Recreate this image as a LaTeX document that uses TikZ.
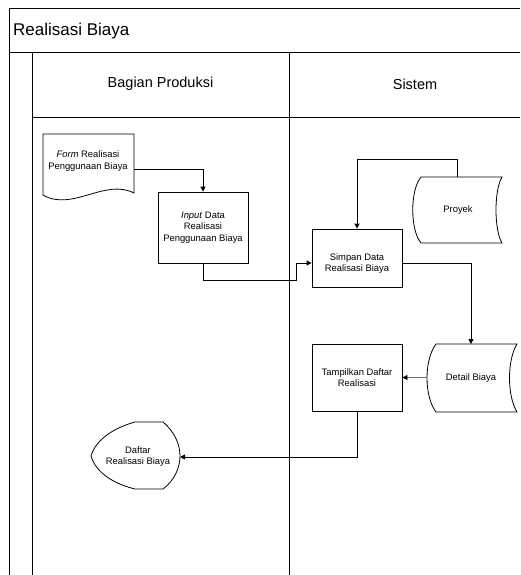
\documentclass[tikz,border=0pt]{standalone}
\usepackage{fontspec}
\setmainfont{Liberation Sans}
\usetikzlibrary{arrows.meta}
\begin{document}
\begin{tikzpicture}[x=1pt,y=-1pt,
  line/.style={draw=black,line width=0.8pt},
  flow/.style={line,-{Triangle[length=5pt,width=5pt]}},
  procbox/.style={draw,line width=0.8pt,minimum width=90pt,inner sep=0pt,align=center,font=\fontsize{9.4}{11.5}\selectfont},
  txt/.style={align=center,inner sep=0pt,font=\fontsize{9.4}{11.5}\selectfont}]
\useasboundingbox (0,0) rectangle (520,575);
% frame
\draw[line] (9,575) -- (9,8) -- (520,8);
\draw[line] (9,52) -- (520,52);
\draw[line] (32,52) -- (32,575);
\draw[line] (32,117) -- (520,117);
\draw[line] (289,52) -- (289,575);
\node[anchor=west,font=\fontsize{17}{20}\selectfont,inner sep=0pt] (title) at (13,31) {Realisasi Biaya};
\node[font=\fontsize{14.5}{17}\selectfont,inner sep=0pt] (lane1) at (160.5,84) {Bagian Produksi};
\node[font=\fontsize{14.5}{17}\selectfont,inner sep=0pt] (lane2) at (415,84) {Sistem};
% document
\draw[line] (43,134) -- (134,134) -- (134,193) .. controls (105,178) and (72,212) .. (43,195) -- cycle;
\node[txt] (form) at (88,161) {\textit{Form} Realisasi\\Penggunaan Biaya};
\coordinate (docR) at (134,169);
% input
\node[procbox,minimum height=71pt] (input) at (203,227.5) {\textit{Input} Data\\Realisasi\\Penggunaan Biaya};
\draw[flow] (docR) -| (input.north);
% simpan
\node[procbox,minimum height=58pt] (simpan) at (357,258) {};
\node[txt] (simpantxt) at (357,263.5) {Simpan Data\\Realisasi Biaya};
\coordinate (j0) at (203,280);
\coordinate (j1) at (296,263);
\draw[flow] (input.south) -- (j0) -| (j1) -- (simpan.west |- j1);
% proyek
\draw[line] (421,177) -- (502,177) .. controls (494,190) and (494,230) .. (502,243) -- (421,243) .. controls (410,230) and (410,190) .. (421,177) -- cycle;
\node[txt] (proyek) at (458,210) {Proyek};
\coordinate (ptop) at (457,177);
\coordinate (k) at (357,159);
\draw[flow] (ptop) |- (k) -- (simpan.north);
% detail
\draw[line] (436,344) -- (517,344) .. controls (507,360) and (507,396) .. (517,412) -- (436,412) .. controls (424,396) and (424,360) .. (436,344) -- cycle;
\node[txt] (detail) at (471,378) {Detail Biaya};
\coordinate (dtop) at (471,344);
\draw[flow] (simpan.east |- j1) -| (dtop);
% tampilkan
\node[procbox,minimum height=67pt] (tampil) at (357,377.5) {Tampilkan Daftar\\Realisasi};
\coordinate (dL) at (427,377.5);
\draw[line,draw=black!55,-{Triangle[length=5pt,width=5pt,color=black]}] (dL) -- (tampil.east);
% display
\draw[line] (135,422) -- (163,422) .. controls (175,432) and (180,445) .. (180,456) .. controls (180,467) and (175,480) .. (163,489) -- (135,489) .. controls (110,483) and (95,470) .. (91,456) .. controls (95,442) and (110,429) .. (135,422) -- cycle;
\node[txt] (daftar) at (138,456.5) {Daftar\\Realisasi Biaya};
\coordinate (dispR) at (180,457);
\draw[flow] (tampil.south) |- (dispR);
\end{tikzpicture}
\end{document}
